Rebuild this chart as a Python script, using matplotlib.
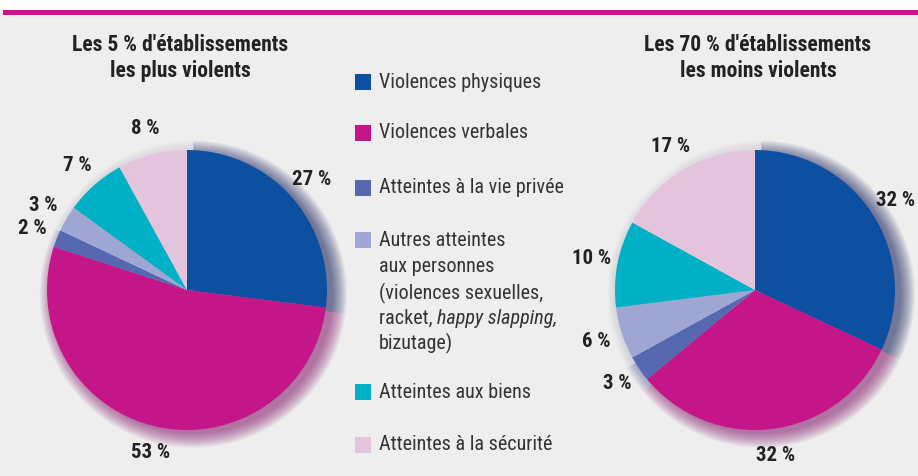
import numpy as np
import matplotlib.pyplot as plt
from matplotlib.patches import Rectangle, Wedge

# Données
categories = ["Violences physiques", "Violences verbales", "Atteintes à la vie privée",
              "Autres atteintes", "Atteintes aux biens", "Atteintes à la sécurité"]
valeurs_plus = [27, 53, 2, 3, 7, 8]
valeurs_moins = [32, 32, 3, 6, 10, 17]
couleurs = ["#0d4fa0", "#c41688", "#5568b0", "#a0a6d4", "#00b0c4", "#e4c4dc"]
ombres = ["#16205e", "#8a1a70", "#50589a", "#b4b4c8", "#a8b4bc", "#c8c0cc"]
titres = ["Les 5 % d'établissements\nles plus violents",
          "Les 70 % d'établissements\nles moins violents"]

W, H = 918, 476
fond = "#eeeeee"

plt.rcParams['font.family'] = ['Roboto Condensed', 'DejaVu Sans']

fig = plt.figure(figsize=(W / 100, H / 100), dpi=100, facecolor=fond)

# Bandeau du haut
fig.patches.append(Rectangle((0, 1 - 10 / H), 1, 10 / H, transform=fig.transFigure,
                             facecolor="white", edgecolor="none", zorder=0))
fig.patches.append(Rectangle((3 / W, 1 - 15 / H), 1, 5 / H, transform=fig.transFigure,
                             facecolor="#c41688", edgecolor="none", zorder=1))


def camembert(cx, cy, valeurs, titre, tx):
    taille = 364
    ax = fig.add_axes([(cx - taille / 2) / W, (H - cy - taille / 2) / H, taille / W, taille / H])
    ax.set_xlim(-1.3, 1.3)
    ax.set_ylim(-1.3, 1.3)
    ax.set_aspect("equal")
    ax.axis("off")

    # Ombre floue autour du camembert
    debut = 90
    for v, c in zip(valeurs, ombres):
        fin = debut - v * 3.6
        for k in range(24):
            r = 0.99 + 0.0045 * (k + 1)
            w = Wedge((0.045, -0.03), r, fin, debut, facecolor=c,
                      edgecolor="none", alpha=0.03, zorder=1)
            ax.add_patch(w)
        debut = fin

    etiquettes = [f"{v} %" for v in valeurs]
    wedges, textes = ax.pie(valeurs, colors=couleurs, startangle=90, counterclock=False,
                            labels=etiquettes, labeldistance=1.19,
                            wedgeprops=dict(linewidth=0, zorder=2),
                            textprops=dict(fontsize=15, fontweight="bold", color="#222222"))
    for t in textes:
        t.set_horizontalalignment("center")
        t.set_verticalalignment("center")
        t.set_clip_on(False)
    ax.set_xlim(-1.3, 1.3)
    ax.set_ylim(-1.3, 1.3)

    fig.text(tx / W, 1 - 58 / H, titre, ha="center", va="center", fontsize=15.5,
             fontweight="bold", color="#222222", linespacing=1.2)


camembert(187, 290, valeurs_plus, titres[0], 180)
camembert(755, 290, valeurs_moins, titres[1], 758)

# Légende
lignes_y = [82, 133, 188, 240, 392, 445]
for y, c, nom in zip(lignes_y, couleurs, categories):
    fig.patches.append(Rectangle((355 / W, 1 - (y + 8) / H), 16 / W, 16 / H,
                                 transform=fig.transFigure, facecolor=c, edgecolor="none"))

style = dict(fontsize=14.5, color="#333333", va="center", ha="left")
for y, nom in zip(lignes_y, categories):
    fig.text(379 / W, 1 - y / H, nom, **style)

fig.text(379 / W, 1 - 267 / H, "aux personnes", **style)
fig.text(379 / W, 1 - 293 / H, "(violences sexuelles,", **style)
t1 = fig.text(379 / W, 1 - 318 / H, "racket, ", **style)
fig.text(379 / W, 1 - 343 / H, "bizutage)", **style)

fig.canvas.draw()
bb = t1.get_window_extent(renderer=fig.canvas.get_renderer())
fig.text(bb.x1 / W, 1 - 318 / H, "happy slapping,", style="italic", **style)

fig.savefig("out.png", dpi=100, facecolor=fond)
